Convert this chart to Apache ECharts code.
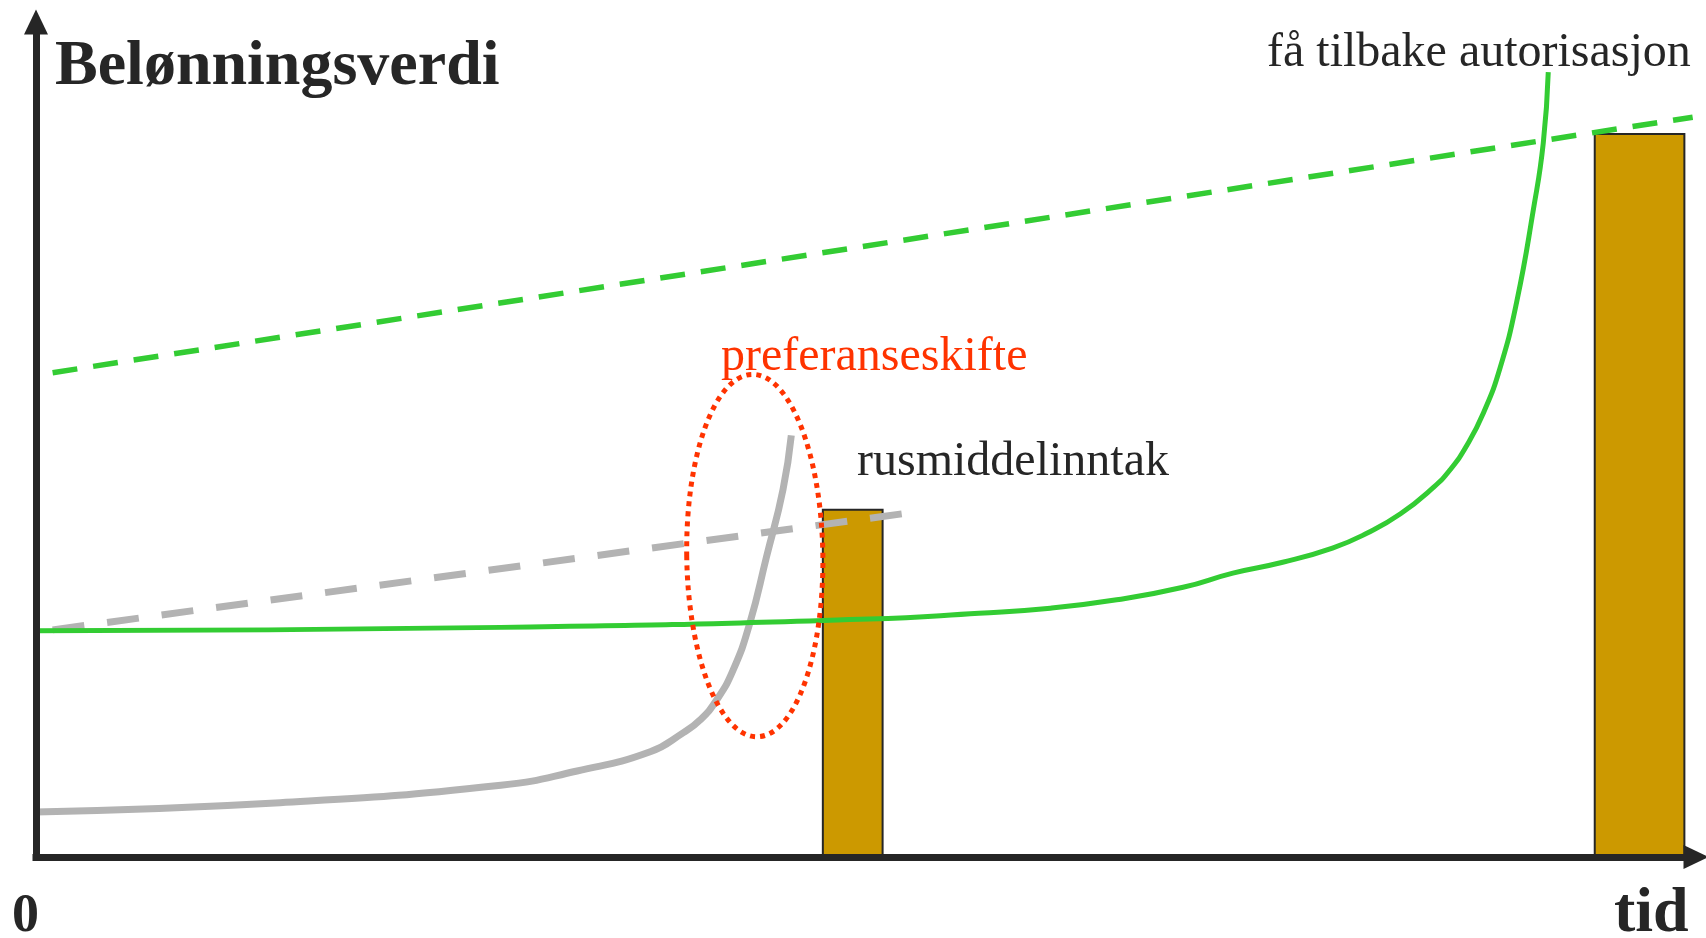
<!DOCTYPE html>
<html>
<head>
<meta charset="utf-8">
<script src="https://cdn.jsdelivr.net/npm/echarts@6/dist/echarts.min.js"></script>
<style>
  html, body { margin: 0; padding: 0; background: #fff; }
  #chart { width: 1706px; height: 938px; }
</style>
</head>
<body>
<div id="chart"></div>
<script>
// x: tid (0-100), y: belønningsverdi (0-100)
const greenDashed = [[1.0, 58.0], [99.8, 88.6]];
const grayDashed = [[1.0, 27.2], [52.9, 41.3]];
const grayCurve = [
  [0, 5.4], [14.7, 6.5], [28.0, 8.6], [32.6, 10.3], [37.0, 12.6],
  [39.0, 14.9], [40.0, 16.4], [41.0, 18.8], [42.0, 22.4], [43.0, 28.0],
  [44.0, 35.9], [45.0, 44.0], [45.5, 50.5]
];
const greenCurve = [
  [0, 27.1], [28.0, 27.5], [50.2, 28.5], [56.8, 29.2], [61.1, 29.8], [65.1, 30.8],
  [69.1, 32.3], [72.1, 34.0], [75.1, 35.3], [78.1, 37.0], [80.2, 38.8],
  [82.2, 41.1], [84.2, 44.3], [85.2, 46.4], [86.2, 49.3], [87.2, 53.2],
  [88.2, 58.6], [89.2, 66.5], [90.2, 77.5], [90.8, 85.5], [91.1, 94.0]
];
// [x start, x end, height]
const bars = [[47.4, 51.0, 41.6], [93.9, 99.3, 86.6]];
// [center x, center y, radius x, radius y]
const shiftEllipse = [[43.3, 36.1, 4.1, 21.7]];

const dark = '#262626';
const serif = "'Liberation Serif', 'Times New Roman', serif";

const chart = echarts.init(document.getElementById('chart'));

const axisBase = {
  type: 'value',
  min: 0,
  max: 100,
  z: 5,
  axisLine: {
    show: true,
    symbol: ['none', 'triangle'],
    symbolSize: [24, 25],
    lineStyle: { color: dark, width: 7, cap: 'square' }
  },
  axisTick: { show: false },
  axisLabel: { show: false },
  splitLine: { show: false }
};

function text(str, x, y, size, opts) {
  return {
    type: 'text',
    x: x,
    y: y,
    silent: true,
    style: Object.assign({
      text: str,
      fontSize: size,
      fontFamily: serif,
      fontWeight: 'normal',
      fill: dark,
      verticalAlign: 'middle',
      align: 'left'
    }, opts || {})
  };
}

chart.setOption({
  backgroundColor: '#fff',
  animation: false,
  grid: { left: 36, right: 10, top: 22, bottom: 81 },
  xAxis: axisBase,
  yAxis: axisBase,
  series: [
    {
      type: 'custom',
      data: bars,
      renderItem: function (params, api) {
        const p0 = api.coord([api.value(0), api.value(2)]);
        const p1 = api.coord([api.value(1), 0]);
        return {
          type: 'rect',
          shape: { x: p0[0], y: p0[1], width: p1[0] - p0[0], height: p1[1] - p0[1] },
          style: { fill: '#CC9900', stroke: dark, lineWidth: 2 }
        };
      },
      silent: true
    },
    {
      type: 'line',
      data: greenDashed,
      showSymbol: false,
      silent: true,
      lineStyle: { color: '#33CC33', width: 5.5, type: [25, 16], cap: 'butt' }
    },
    {
      type: 'line',
      data: grayDashed,
      showSymbol: false,
      silent: true,
      lineStyle: { color: '#B3B3B3', width: 7, type: [32, 23], cap: 'butt' }
    },
    {
      type: 'line',
      data: grayCurve,
      showSymbol: false,
      silent: true,
      smooth: 0.5,
      lineStyle: { color: '#B3B3B3', width: 7 }
    },
    {
      type: 'line',
      data: greenCurve,
      showSymbol: false,
      silent: true,
      smooth: 0.5,
      lineStyle: { color: '#33CC33', width: 5 }
    },
    {
      type: 'custom',
      data: shiftEllipse,
      silent: true,
      z: 10,
      renderItem: function (params, api) {
        const c = api.coord([api.value(0), api.value(1)]);
        const s = api.size([api.value(2), api.value(3)]);
        return {
          type: 'ellipse',
          x: c[0],
          y: c[1],
          rotation: 0.014,
          shape: { cx: 0, cy: 0, rx: s[0], ry: s[1] },
          style: { fill: 'none', stroke: '#FF3300', lineWidth: 5, lineDash: [5, 5] }
        };
      }
    }
  ],
  graphic: [
    text('Belønningsverdi', 55, 67, 64, { fontWeight: 'bold' }),
    text('få tilbake autorisasjon', 1267, 53, 48),
    text('preferanseskifte', 721, 357, 48, { fill: '#FF3300' }),
    text('rusmiddelinntak', 857, 462, 48),
    text('0', 12, 917, 54, { fontWeight: 'bold' }),
    text('tid', 1614, 914, 64, { fontWeight: 'bold' })
  ]
});
</script>
</body>
</html>
